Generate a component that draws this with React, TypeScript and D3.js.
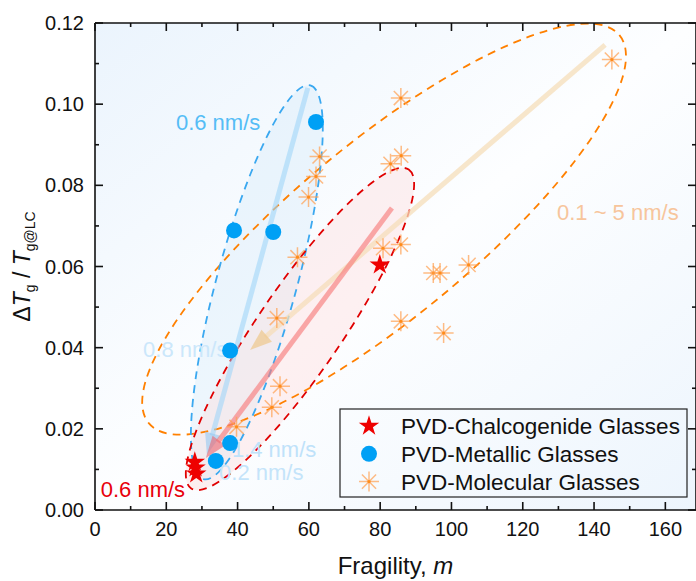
import * as d3 from 'd3';
import React from 'react';

// fragility m vs ΔTg / Tg@LC
const chalcogenideM = [28.0, 28.2, 28.4, 79.9];
const chalcogenideV = [0.0118, 0.0104, 0.0089, 0.0604];

const metallicM = [62.0, 39.0, 50.0, 37.9, 37.9, 33.9];
const metallicV = [0.0956, 0.0689, 0.0685, 0.0393, 0.0165, 0.0121];

const molecularM = [145, 85.8, 63.0, 62.0, 59.9, 82.9, 85.9, 56.8, 80.8, 85.8, 94.9, 96.8, 104.8, 85.8, 97.8, 51.0, 51.9, 49.6, 39.7];
const molecularV = [0.1110, 0.1015, 0.0871, 0.0822, 0.0771, 0.0853, 0.0873, 0.0623, 0.0645, 0.0654, 0.0584, 0.0584, 0.0604, 0.0465, 0.0436, 0.0473, 0.0305, 0.0253, 0.0205];

const xTicks = [0, 20, 40, 60, 80, 100, 120, 140, 160];
const yTicks = [0, 0.02, 0.04, 0.06, 0.08, 0.1, 0.12];

const legendLabels = ['PVD-Chalcogenide Glasses', 'PVD-Metallic Glasses', 'PVD-Molecular Glasses'];

// guide ellipses: centre in data units, semi axes in px, tilt in degrees
const ellipses = [
  { name: 'molecular', m: 81.1, v: 0.0692, rx: 305, ry: 88, angle: -39.5, stroke: '#ff8000', fill: 'none' },
  { name: 'metallic', m: 45.4, v: 0.0561, rx: 204, ry: 40, angle: -74.8, stroke: '#3aa8f0', fill: 'rgba(215,236,251,0.4)' },
  { name: 'chalcogenide', m: 57.5, v: 0.0446, rx: 193, ry: 42, angle: -55.7, stroke: '#e00000', fill: 'rgba(255,210,210,0.3)' },
];

const arrows = [
  { m0: 143.1, v0: 0.1146, m1: 43.5, v1: 0.0394, line: 'rgba(246,222,185,0.75)', head: 'rgba(238,200,140,0.7)' },
  { m0: 59.7, v0: 0.104, m1: 31.4, v1: 0.0136, line: 'rgba(160,214,248,0.6)', head: 'rgba(150,200,240,0.6)' },
  { m0: 83.3, v0: 0.0744, m1: 31.1, v1: 0.0128, line: 'rgba(248,125,125,0.65)', head: 'rgba(235,100,110,0.6)' },
];

const notes = [
  { text: '0.6 nm/s', m: 22.7, v: 0.0936, color: '#55bdf6' },
  { text: '0.8 nm/s', m: 13.5, v: 0.0377, color: '#cbe7fb' },
  { text: '1.4 nm/s', m: 38.4, v: 0.0131, color: '#bfe2fa' },
  { text: '0.2 nm/s', m: 34.8, v: 0.0074, color: '#c4e4fa' },
  { text: '0.6 nm/s', m: 1.6, v: 0.0032, color: '#e8000b' },
  { text: '0.1 ~ 5 nm/s', m: 129.6, v: 0.0715, color: '#f7c59c' },
];

const width = 696;
const height = 581;
const font = "'Liberation Sans', Arial, sans-serif";

const x = d3.scaleLinear().domain([0, 168.6]).range([95, 696]);
const y = d3.scaleLinear().domain([0, 0.12]).range([510, 23]);

const starPath = d3.symbol(d3.symbolStar, 130)();

const Asterisk = ({ cx, cy, r = 10 }) => {
  const d = [0, 45, 90, 135]
    .map((a) => {
      const dx = r * Math.cos((a * Math.PI) / 180);
      const dy = r * Math.sin((a * Math.PI) / 180);
      return `M${cx - dx},${cy - dy}L${cx + dx},${cy + dy}`;
    })
    .join('');
  return (
    <g>
      <path d={d} stroke="rgba(255,160,80,0.7)" strokeWidth={1.5} fill="none" />
      <circle cx={cx} cy={cy} r={1.6} fill="#ff8c1a" />
    </g>
  );
};

const Arrow = ({ a }) => {
  const x0 = x(a.m0), y0 = y(a.v0), x1 = x(a.m1), y1 = y(a.v1);
  const len = Math.hypot(x1 - x0, y1 - y0);
  const ux = (x1 - x0) / len, uy = (y1 - y0) / len;
  const hl = 22, hw = 8;
  const bx = x1 - ux * hl, by = y1 - uy * hl;
  const head = `M${x1},${y1}L${bx - uy * hw},${by + ux * hw}L${bx + uy * hw},${by - ux * hw}Z`;
  return (
    <g>
      <line x1={x0} y1={y0} x2={bx + ux * 2} y2={by + uy * 2} stroke={a.line} strokeWidth={5} />
      <path d={head} fill={a.head} />
    </g>
  );
};

export default function App() {
  const xMinor = d3.range(0, 169, 10);
  const yMinor = d3.range(0, 0.1201, 0.01);
  const left = x.range()[0], right = x.range()[1];
  const top = y.range()[1], bottom = y.range()[0];

  return (
    <svg
      width={width}
      height={height}
      style={{ position: 'absolute', left: 0, top: 0, background: '#fff' }}
      fontFamily={font}
    >
      <defs>
        <linearGradient id="bg" x1="0" y1="0" x2="1" y2="1">
          <stop offset="0" stopColor="#ebf4fd" />
          <stop offset="0.5" stopColor="#fdfeff" />
          <stop offset="1" stopColor="#edf5fd" />
        </linearGradient>
      </defs>
      <rect x={left} y={top} width={right - left} height={bottom - top} fill="url(#bg)" />

      {ellipses.map((e) => (
        <ellipse
          key={e.name}
          cx={0}
          cy={0}
          rx={e.rx}
          ry={e.ry}
          transform={`translate(${x(e.m)},${y(e.v)}) rotate(${e.angle})`}
          fill={e.fill}
          stroke="none"
        />
      ))}
      {ellipses.map((e) => (
        <ellipse
          key={e.name + '-edge'}
          cx={0}
          cy={0}
          rx={e.rx}
          ry={e.ry}
          transform={`translate(${x(e.m)},${y(e.v)}) rotate(${e.angle})`}
          fill="none"
          stroke={e.stroke}
          strokeWidth={1.8}
          strokeDasharray="8 6"
        />
      ))}

      {arrows.map((a, i) => (
        <Arrow key={i} a={a} />
      ))}

      {notes.map((n, i) => (
        <text key={i} x={x(n.m)} y={y(n.v)} fill={n.color} fontSize={22}>
          {n.text}
        </text>
      ))}

      {molecularM.map((m, i) => (
        <Asterisk key={i} cx={x(m)} cy={y(molecularV[i])} />
      ))}
      {metallicM.map((m, i) => (
        <circle key={i} cx={x(m)} cy={y(metallicV[i])} r={8} fill="#00a0f5" />
      ))}
      {chalcogenideM.map((m, i) => (
        <path key={i} d={starPath} transform={`translate(${x(m)},${y(chalcogenideV[i])})`} fill="#ee0000" />
      ))}

      {/* frame and inward ticks */}
      <g stroke="#111" strokeWidth={1.6}>
        <line x1={left} y1={top} x2={left} y2={bottom} />
        <line x1={right} y1={top} x2={right} y2={bottom} />
        <line x1={left} y1={top} x2={right} y2={top} />
        <line x1={left} y1={bottom} x2={right} y2={bottom} />
        {xMinor.map((t) => {
          const len = t % 20 === 0 ? 8 : 4;
          return (
            <g key={'x' + t}>
              <line x1={x(t)} x2={x(t)} y1={bottom} y2={bottom - len} />
              <line x1={x(t)} x2={x(t)} y1={top} y2={top + len} />
            </g>
          );
        })}
        {yMinor.map((t, i) => {
          const len = i % 2 === 0 ? 8 : 4;
          return (
            <g key={'y' + i}>
              <line x1={left} x2={left + len} y1={y(t)} y2={y(t)} />
              <line x1={right} x2={right - len} y1={y(t)} y2={y(t)} />
            </g>
          );
        })}
      </g>

      <g fontSize={20} fill="#111">
        {xTicks.map((t) => (
          <text key={t} x={x(t)} y={bottom + 26} textAnchor="middle">
            {t}
          </text>
        ))}
        {yTicks.map((t) => (
          <text key={t} x={left - 11} y={y(t) + 7} textAnchor="end">
            {d3.format('.2f')(t)}
          </text>
        ))}
      </g>

      <text x={(left + right) / 2} y={574} textAnchor="middle" fontSize={24} fill="#111">
        Fragility, <tspan fontStyle="italic">m</tspan>
      </text>
      <text transform={`translate(30,${(top + bottom) / 2}) rotate(-90)`} textAnchor="middle" fontSize={23} fill="#111">
        Δ<tspan fontStyle="italic">T</tspan>
        <tspan fontSize={14} dy={5}>g</tspan>
        <tspan dy={-5}> / </tspan>
        <tspan fontStyle="italic">T</tspan>
        <tspan fontSize={14} dy={5}>g@LC</tspan>
      </text>

      {/* legend */}
      <g>
        <rect x={340} y={409} width={347} height={88} fill="none" stroke="#222" strokeWidth={1.2} />
        {legendLabels.map((label, i) => {
          const cy = 426 + i * 27.8;
          return (
            <g key={label}>
              {i === 0 && <path d={starPath} transform={`translate(369,${cy})`} fill="#ee0000" />}
              {i === 1 && <circle cx={369} cy={cy} r={8} fill="#00a0f5" />}
              {i === 2 && <Asterisk cx={369} cy={cy} />}
              <text x={401} y={cy + 8} fontSize={22.5} fill="#111">
                {label}
              </text>
            </g>
          );
        })}
      </g>
    </svg>
  );
}
